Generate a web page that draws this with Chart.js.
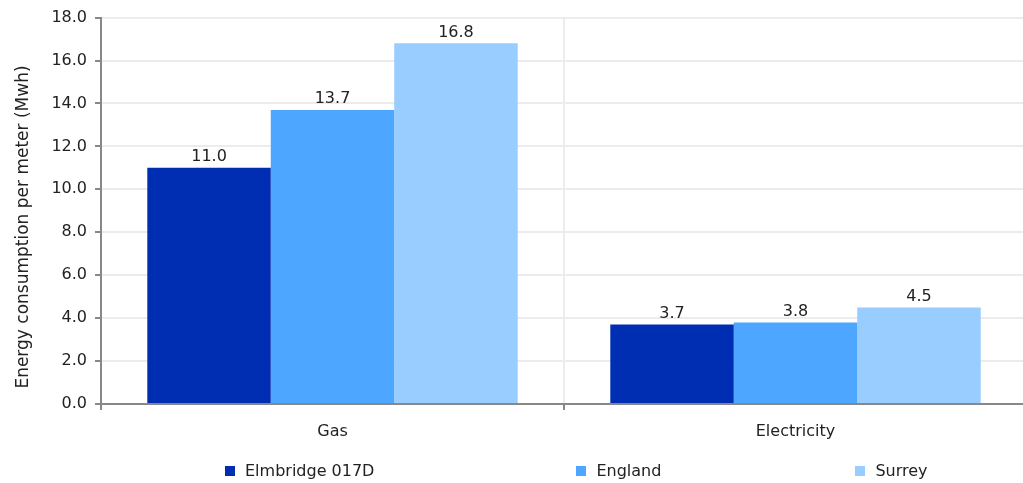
<!DOCTYPE html>
<html>
<head>
<meta charset="utf-8">
<script src="https://cdn.jsdelivr.net/npm/chart.js@4.4.1/dist/chart.umd.min.js"></script>
<style>
  html, body { margin: 0; padding: 0; background: #fff; }
  #wrap { position: relative; width: 1023px; height: 483px; overflow: hidden; }
  #legend {
    position: absolute; left: 225px; top: 461px;
    display: flex; align-items: center;
    font-family: "DejaVu Sans", sans-serif; font-size: 16px; color: #222;
  }
  .item { display: flex; align-items: center; white-space: nowrap; }
  .item:nth-child(1) { margin-right: 202px; }
  .item:nth-child(2) { margin-right: 194px; }
  .box { width: 10px; height: 10px; margin-right: 10px; }
</style>
</head>
<body>
<div id="wrap">
  <!-- canvas slightly wider than the page: the plot runs off the right edge like the original -->
  <canvas id="chart" width="1027" height="483"></canvas>
  <div id="legend"></div>
</div>
<script>
const categories = ["Gas", "Electricity"];
const seriesNames = ["Elmbridge 017D", "England", "Surrey"];
const seriesColors = ["#002eb3", "#4da6ff", "#99ccff"];
const elmbridge = [11.0, 3.7];
const england = [13.7, 3.8];
const surrey = [16.8, 4.5];
const yTicks = [0, 2, 4, 6, 8, 10, 12, 14, 16, 18];

const font = "'DejaVu Sans', sans-serif";
const seriesValues = [elmbridge, england, surrey];

// value labels above each bar
const barLabels = {
  id: "barLabels",
  afterDatasetsDraw(chart) {
    const ctx = chart.ctx;
    ctx.save();
    ctx.font = "16px " + font;
    ctx.fillStyle = "#222";
    ctx.textAlign = "center";
    ctx.textBaseline = "bottom";
    chart.data.datasets.forEach((ds, i) => {
      chart.getDatasetMeta(i).data.forEach((bar, j) => {
        ctx.fillText(ds.data[j].toFixed(1), bar.x, bar.y - 3);
      });
    });
    ctx.restore();
  }
};

new Chart(document.getElementById("chart"), {
  type: "bar",
  data: {
    labels: categories,
    datasets: seriesNames.map((name, i) => ({
      label: name,
      data: seriesValues[i],
      backgroundColor: seriesColors[i],
      borderWidth: 0,
      categoryPercentage: 0.8,
      barPercentage: 1.0
    }))
  },
  options: {
    responsive: false,
    animation: false,
    layout: { padding: { top: 16, right: 0, left: 0, bottom: 0 } },
    plugins: {
      legend: { display: false },
      tooltip: { enabled: false }
    },
    scales: {
      x: {
        grid: { color: "#ececec", lineWidth: 2, tickColor: "#888", tickLength: 6, offset: true },
        border: { color: "#888", width: 2 },
        ticks: { color: "#222", font: { family: font, size: 16 }, padding: 12 },
        afterFit(scale) { scale.height = 79; }
      },
      y: {
        min: 0,
        max: 18,
        afterBuildTicks(scale) { scale.ticks = yTicks.map(v => ({ value: v })); },
        grid: { color: "#ececec", lineWidth: 2, tickColor: "#888", tickLength: 6 },
        border: { color: "#888", width: 2 },
        ticks: {
          color: "#222",
          font: { family: font, size: 16 },
          padding: 8,
          callback: v => v.toFixed(1)
        },
        title: {
          display: true,
          // trailing spaces nudge the rotated title a bit lower, as in the original
          text: "Energy consumption per meter (Mwh)      ",
          color: "#222",
          font: { family: font, size: 17 },
          padding: { top: 13, bottom: 0 }
        },
        afterFit(scale) { scale.width = 101; }
      }
    }
  },
  plugins: [barLabels]
});

// html legend
const legend = document.getElementById("legend");
seriesNames.forEach((name, i) => {
  const item = document.createElement("div");
  item.className = "item";
  item.innerHTML = `<span class="box" style="background:${seriesColors[i]}"></span><span>${name}</span>`;
  legend.appendChild(item);
});
</script>
</body>
</html>
